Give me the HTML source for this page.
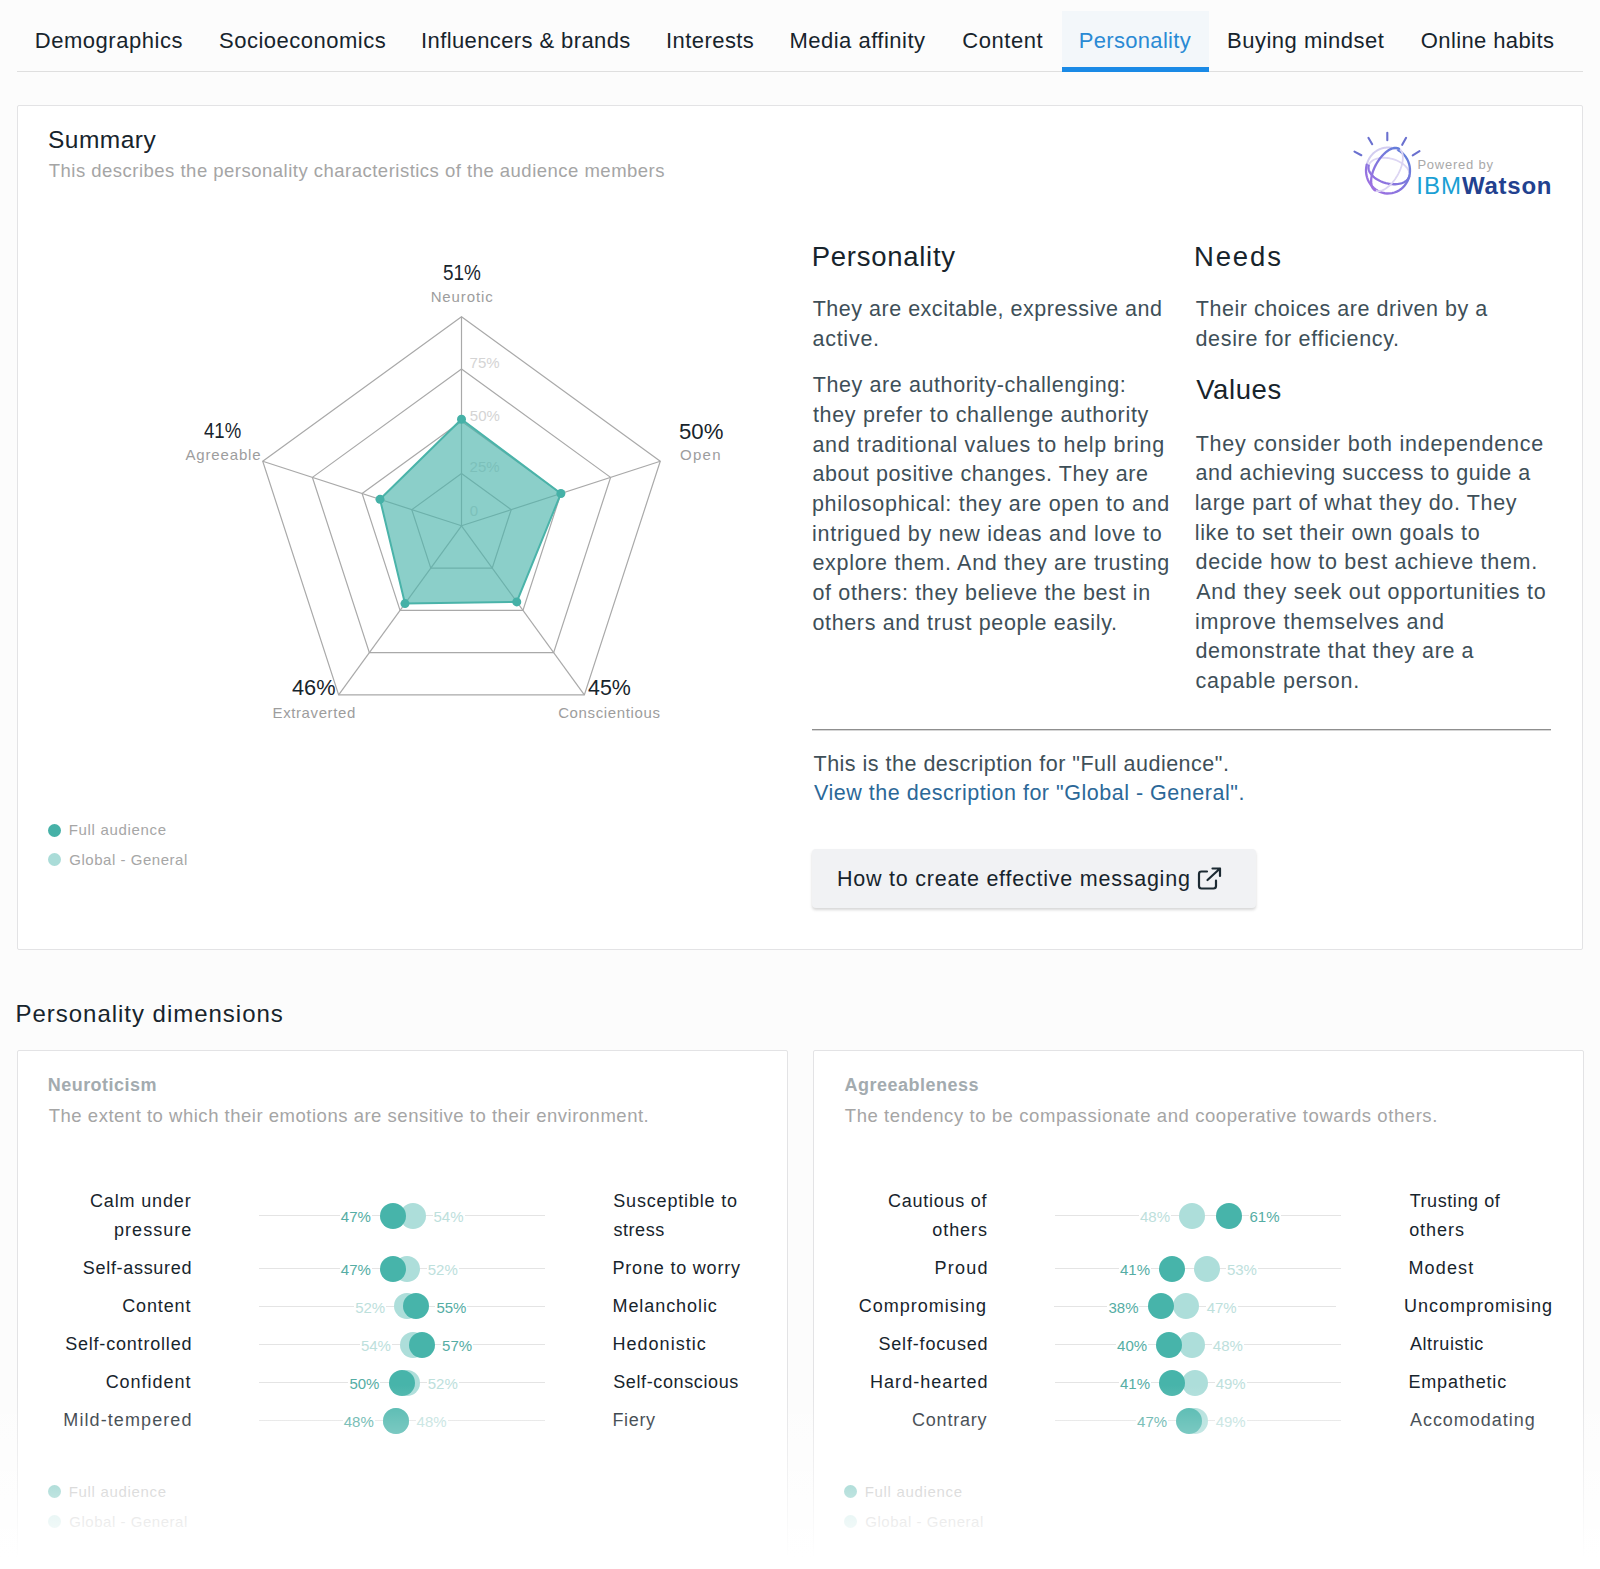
<!DOCTYPE html>
<html><head><meta charset="utf-8"><style>
html,body{margin:0;padding:0}
body{width:1600px;height:1569px;position:relative;overflow:hidden;background:#fcfcfc;font-family:'Liberation Sans', sans-serif}
.t{position:absolute;white-space:nowrap}
</style></head><body>
<div style="position:absolute;left:1062px;top:11px;width:147px;height:61px;background:#f3f7fa"></div>
<div style="position:absolute;left:17px;top:71px;width:1566px;height:1px;background:#dfdfdf"></div>
<div style="position:absolute;left:1062px;top:67px;width:147px;height:5px;background:#1a8ae6"></div>
<div class="t" style="left:34.75px;top:26px;font-size:22px;line-height:29px;color:#17242c;letter-spacing:0.532px;">Demographics</div>
<div class="t" style="left:219.00px;top:26px;font-size:22px;line-height:29px;color:#17242c;letter-spacing:0.500px;">Socioeconomics</div>
<div class="t" style="left:421.00px;top:26px;font-size:22px;line-height:29px;color:#17242c;letter-spacing:0.395px;">Influencers &amp; brands</div>
<div class="t" style="left:666.00px;top:26px;font-size:22px;line-height:29px;color:#17242c;letter-spacing:0.438px;">Interests</div>
<div class="t" style="left:789.50px;top:26px;font-size:22px;line-height:29px;color:#17242c;letter-spacing:0.481px;">Media affinity</div>
<div class="t" style="left:962.25px;top:26px;font-size:22px;line-height:29px;color:#17242c;letter-spacing:0.542px;">Content</div>
<div class="t" style="left:1078.85px;top:26px;font-size:22px;line-height:29px;color:#2a8ad4;letter-spacing:0.300px;">Personality</div>
<div class="t" style="left:1227.00px;top:26px;font-size:22px;line-height:29px;color:#17242c;letter-spacing:0.500px;">Buying mindset</div>
<div class="t" style="left:1420.75px;top:26px;font-size:22px;line-height:29px;color:#17242c;letter-spacing:0.396px;">Online habits</div>
<div style="position:absolute;left:17px;top:105px;width:1566px;height:845px;background:#fff;border:1px solid #e3e3e5;border-radius:2px;box-sizing:border-box"></div>
<div class="t" style="left:48.00px;top:124px;font-size:24.5px;line-height:32px;color:#17242c;letter-spacing:0.475px;">Summary</div>
<div class="t" style="left:48.75px;top:159px;font-size:18.5px;line-height:24px;color:#a5a5a5;letter-spacing:0.489px;">This describes the personality characteristics of the audience members</div>
<svg style="position:absolute;left:1345px;top:125px" width="80" height="75" viewBox="1345 125 80 75"><defs><linearGradient id="wg" gradientUnits="userSpaceOnUse" x1="1368" y1="192" x2="1410" y2="148"><stop offset="0" stop-color="#a46fe2"/><stop offset="1" stop-color="#5a80d8"/></linearGradient></defs><g stroke="#6a70cf" stroke-width="2.1" stroke-linecap="round"><line x1="1387.3" y1="132.8" x2="1387.3" y2="140.3"/><line x1="1368.4" y1="137.8" x2="1372.2" y2="144.2"/><line x1="1406.1" y1="137.8" x2="1402.2" y2="144.8"/><line x1="1354.5" y1="151.6" x2="1361.3" y2="155.2"/><line x1="1419.5" y1="151.2" x2="1412.7" y2="155.3"/></g><g fill="none" stroke-linecap="round"><polyline points="1366.75,164.55 1367.03,163.54 1367.36,162.54 1367.73,161.56 1368.14,160.60 1368.60,159.66 1369.09,158.74 1369.63,157.85 1370.20,156.98 1370.81,156.14 1371.46,155.34 1372.14,154.56 1372.86,153.82 1373.60,153.11 1374.38,152.44 1375.19,151.80 1376.02,151.21 1376.88,150.66 1377.76,150.15 1378.66,149.68 1379.58,149.25 1380.52,148.87 1381.48,148.53 1382.45,148.25 1383.43,148.00 1384.42,147.81 1385.41,147.66 1386.42,147.56 1387.42,147.51 1388.43,147.50 1389.44,147.55 1390.44,147.64 1391.44,147.78 1392.43,147.97 1393.42,148.21 1394.39,148.49 1395.34,148.82 1396.29,149.19 1397.21,149.61 1398.12,150.08 1399.00,150.58" stroke="#d3cdf0" stroke-width="2"/><polyline points="1368.72,165.56 1369.03,164.63 1369.47,163.74 1370.03,162.90 1370.71,162.10 1371.50,161.36 1372.40,160.68 1373.40,160.06 1374.49,159.51 1375.68,159.03 1376.94,158.62 1378.29,158.29 1379.69,158.04 1381.16,157.87 1382.67,157.77 1384.23,157.77 1385.81,157.84 1387.41,157.99 1389.02,158.22 1390.63,158.54 1392.24,158.93 1393.82,159.39 1395.37,159.92 1396.88,160.53 1398.35,161.20 1399.75,161.92 1401.09,162.71 1402.36,163.55 1403.54,164.43 1404.63,165.35 1405.63,166.31 1406.53,167.29 1407.31,168.30 1407.99,169.33 1408.54,170.36 1408.98,171.40 1409.29,172.44 1409.48,173.47 1409.54,174.48 1409.48,175.47 1409.28,176.44" stroke="#ddd6f3" stroke-width="1.8"/><polyline points="1398.33,150.19 1400.44,151.53 1402.39,153.10 1404.16,154.89 1405.73,156.88 1407.08,159.04 1408.18,161.35 1409.04,163.77 1409.62,166.27 1409.94,168.83 1409.98,171.40 1409.75,173.97 1409.24,176.49 1408.47,178.94 1407.43,181.28 1406.16,183.49 1404.65,185.53 1402.94,187.38 1401.04,189.02 1398.98,190.43 1396.77,191.59 1394.46,192.49 1392.07,193.10 1389.62,193.44 1387.16,193.48 1384.70,193.24 1382.29,192.71 1379.95,191.90 1377.71,190.83 1375.59,189.49 1373.64,187.92 1371.86,186.13 1370.29,184.15 1368.94,181.99 1367.83,179.69 1366.98,177.27 1366.38,174.77 1366.06,172.21 1366.02,169.64 1366.25,167.07 1366.75,164.55" stroke="url(#wg)" stroke-width="2.3"/><polyline points="1409.28,176.44 1408.97,177.37 1408.53,178.26 1407.97,179.10 1407.29,179.90 1406.50,180.64 1405.60,181.32 1404.60,181.94 1403.51,182.49 1402.32,182.97 1401.06,183.38 1399.71,183.71 1398.31,183.96 1396.84,184.13 1395.33,184.23 1393.77,184.23 1392.19,184.16 1390.59,184.01 1388.98,183.78 1387.37,183.46 1385.76,183.07 1384.18,182.61 1382.63,182.08 1381.12,181.47 1379.65,180.80 1378.25,180.08 1376.91,179.29 1375.64,178.45 1374.46,177.57 1373.37,176.65 1372.37,175.69 1371.47,174.71 1370.69,173.70 1370.01,172.67 1369.46,171.64 1369.02,170.60 1368.71,169.56 1368.52,168.53 1368.46,167.52 1368.52,166.53 1368.72,165.56" stroke="url(#wg)" stroke-width="2.3"/><polyline points="1399.00,148.72 1399.78,149.25 1400.48,149.91 1401.09,150.69 1401.62,151.59 1402.06,152.59 1402.41,153.70 1402.66,154.91 1402.82,156.21 1402.87,157.59 1402.83,159.05 1402.70,160.56 1402.46,162.14 1402.13,163.76 1401.71,165.41 1401.19,167.09 1400.59,168.78 1399.91,170.48 1399.14,172.17 1398.30,173.85 1397.39,175.50 1396.42,177.11 1395.39,178.68 1394.30,180.19 1393.18,181.63 1392.01,183.00 1390.81,184.28 1389.59,185.48 1388.35,186.57 1387.11,187.56 1385.86,188.44 1384.62,189.20 1383.40,189.84 1382.20,190.36 1381.03,190.74 1379.89,191.00 1378.80,191.12 1377.76,191.11 1376.77,190.97 1375.85,190.69 1375.00,190.28" stroke="#dcd5f2" stroke-width="1.8"/><polyline points="1375.00,190.28 1374.22,189.75 1373.52,189.09 1372.91,188.31 1372.38,187.41 1371.94,186.41 1371.59,185.30 1371.34,184.09 1371.18,182.79 1371.13,181.41 1371.17,179.95 1371.30,178.44 1371.54,176.86 1371.87,175.24 1372.29,173.59 1372.81,171.91 1373.41,170.22 1374.09,168.52 1374.86,166.83 1375.70,165.15 1376.61,163.50 1377.58,161.89 1378.61,160.32 1379.70,158.81 1380.82,157.37 1381.99,156.00 1383.19,154.72 1384.41,153.52 1385.65,152.43 1386.89,151.44 1388.14,150.56 1389.38,149.80 1390.60,149.16 1391.80,148.64 1392.97,148.26 1394.11,148.00 1395.20,147.88 1396.24,147.89 1397.23,148.03 1398.15,148.31 1399.00,148.72" stroke="url(#wg)" stroke-width="2.3"/></g></svg>
<div class="t" style="left:1417.40px;top:156px;font-size:13px;line-height:17px;color:#a9a9a9;letter-spacing:0.761px;">Powered by</div>
<div class="t" style="left:1416.15px;top:170px;font-size:24px;line-height:31px;color:#1a9fd4;letter-spacing:1.150px;">IBM</div>
<div class="t" style="left:1462.00px;top:170px;font-size:24px;line-height:31px;color:#22418f;letter-spacing:0.750px;font-weight:bold;">Watson</div>
<svg style="position:absolute;left:0;top:0" width="1600" height="1000" viewBox="0 0 1600 1000"><polygon points="461.50,473.55 511.19,509.65 492.21,568.07 430.79,568.07 411.81,509.65" fill="none" stroke="#a9a9a9" stroke-width="1.2"/><polygon points="461.50,421.30 560.89,493.51 522.92,610.34 400.08,610.34 362.11,493.51" fill="none" stroke="#a9a9a9" stroke-width="1.2"/><polygon points="461.50,369.05 610.58,477.36 553.64,652.61 369.36,652.61 312.42,477.36" fill="none" stroke="#a9a9a9" stroke-width="1.2"/><polygon points="461.50,316.80 660.27,461.22 584.35,694.88 338.65,694.88 262.73,461.22" fill="none" stroke="#a9a9a9" stroke-width="1.2"/><line x1="461.5" y1="525.8" x2="461.50" y2="316.80" stroke="#a9a9a9" stroke-width="1.2"/><line x1="461.5" y1="525.8" x2="660.27" y2="461.22" stroke="#a9a9a9" stroke-width="1.2"/><line x1="461.5" y1="525.8" x2="584.35" y2="694.88" stroke="#a9a9a9" stroke-width="1.2"/><line x1="461.5" y1="525.8" x2="338.65" y2="694.88" stroke="#a9a9a9" stroke-width="1.2"/><line x1="461.5" y1="525.8" x2="262.73" y2="461.22" stroke="#a9a9a9" stroke-width="1.2"/><text x="469.55" y="367.8" font-size="15" fill="#d4d4d4" font-family="Liberation Sans">75%</text><text x="469.80" y="420.5" font-size="15" fill="#d4d4d4" font-family="Liberation Sans">50%</text><text x="469.55" y="472" font-size="15" fill="#d4d4d4" font-family="Liberation Sans">25%</text><text x="469.80" y="515.5" font-size="15" fill="#d4d4d4" font-family="Liberation Sans">0</text><polygon points="461.50,419.21 560.89,493.51 516.78,601.89 404.99,603.58 380.00,499.32" fill="rgba(77,182,172,0.65)" stroke="#4ab3a9" stroke-width="2" stroke-linejoin="round"/><circle cx="461.50" cy="419.21" r="4.5" fill="#45b1a7"/><circle cx="560.89" cy="493.51" r="4.5" fill="#45b1a7"/><circle cx="516.78" cy="601.89" r="4.5" fill="#45b1a7"/><circle cx="404.99" cy="603.58" r="4.5" fill="#45b1a7"/><circle cx="380.00" cy="499.32" r="4.5" fill="#45b1a7"/></svg>
<div class="t" style="left:442.86px;top:258px;font-size:22.5px;line-height:29px;color:#17242c;letter-spacing:0.000px;transform:scaleX(0.8416);transform-origin:0 0;">51%</div>
<div class="t" style="left:430.65px;top:287px;font-size:15px;line-height:20px;color:#9d9d9d;letter-spacing:0.886px;">Neurotic</div>
<div class="t" style="left:204.29px;top:416px;font-size:22.5px;line-height:29px;color:#17242c;letter-spacing:0.000px;transform:scaleX(0.8251);transform-origin:0 0;">41%</div>
<div class="t" style="left:185.50px;top:445px;font-size:15px;line-height:20px;color:#9d9d9d;letter-spacing:0.844px;">Agreeable</div>
<div class="t" style="left:678.62px;top:417px;font-size:22.5px;line-height:29px;color:#17242c;letter-spacing:0.000px;transform:scaleX(0.9850);transform-origin:0 0;">50%</div>
<div class="t" style="left:680.05px;top:445px;font-size:15px;line-height:20px;color:#9d9d9d;letter-spacing:1.267px;">Open</div>
<div class="t" style="left:292.32px;top:673px;font-size:22.5px;line-height:29px;color:#17242c;letter-spacing:0.000px;transform:scaleX(0.9669);transform-origin:0 0;">46%</div>
<div class="t" style="left:272.55px;top:703px;font-size:15px;line-height:20px;color:#9d9d9d;letter-spacing:0.600px;">Extraverted</div>
<div class="t" style="left:587.82px;top:673px;font-size:22.5px;line-height:29px;color:#17242c;letter-spacing:0.000px;transform:scaleX(0.9509);transform-origin:0 0;">45%</div>
<div class="t" style="left:558.15px;top:703px;font-size:15px;line-height:20px;color:#9d9d9d;letter-spacing:0.633px;">Conscientious</div>
<div style="position:absolute;left:48px;top:823.5px;width:13px;height:13px;background:#46b1a7;border-radius:50%"></div>
<div class="t" style="left:68.75px;top:820px;font-size:15px;line-height:20px;color:#a6a6a6;letter-spacing:0.667px;">Full audience</div>
<div style="position:absolute;left:48px;top:853px;width:13px;height:13px;background:#aadcd8;border-radius:50%"></div>
<div class="t" style="left:69.25px;top:850px;font-size:15px;line-height:20px;color:#a6a6a6;letter-spacing:0.533px;">Global - General</div>
<div class="t" style="left:811.75px;top:239px;font-size:27.5px;line-height:36px;color:#17242c;letter-spacing:0.725px;">Personality</div>
<div class="t" style="left:1193.95px;top:239px;font-size:27.5px;line-height:36px;color:#17242c;letter-spacing:1.863px;">Needs</div>
<div class="t" style="left:812.70px;top:295px;font-size:21.5px;line-height:28px;color:#3e4f58;letter-spacing:0.514px;">They are excitable, expressive and</div>
<div class="t" style="left:812.45px;top:325px;font-size:21.5px;line-height:28px;color:#3e4f58;letter-spacing:0.750px;">active.</div>
<div class="t" style="left:812.70px;top:371px;font-size:21.5px;line-height:28px;color:#3e4f58;letter-spacing:0.598px;">They are authority-challenging:</div>
<div class="t" style="left:812.95px;top:401px;font-size:21.5px;line-height:28px;color:#3e4f58;letter-spacing:0.673px;">they prefer to challenge authority</div>
<div class="t" style="left:812.45px;top:431px;font-size:21.5px;line-height:28px;color:#3e4f58;letter-spacing:0.693px;">and traditional values to help bring</div>
<div class="t" style="left:812.45px;top:460px;font-size:21.5px;line-height:28px;color:#3e4f58;letter-spacing:0.621px;">about positive changes. They are</div>
<div class="t" style="left:811.95px;top:490px;font-size:21.5px;line-height:28px;color:#3e4f58;letter-spacing:0.701px;">philosophical: they are open to and</div>
<div class="t" style="left:811.95px;top:520px;font-size:21.5px;line-height:28px;color:#3e4f58;letter-spacing:0.748px;">intrigued by new ideas and love to</div>
<div class="t" style="left:812.45px;top:549px;font-size:21.5px;line-height:28px;color:#3e4f58;letter-spacing:0.687px;">explore them. And they are trusting</div>
<div class="t" style="left:812.45px;top:579px;font-size:21.5px;line-height:28px;color:#3e4f58;letter-spacing:0.653px;">of others: they believe the best in</div>
<div class="t" style="left:812.45px;top:609px;font-size:21.5px;line-height:28px;color:#3e4f58;letter-spacing:0.643px;">others and trust people easily.</div>
<div class="t" style="left:1195.70px;top:295px;font-size:21.5px;line-height:28px;color:#3e4f58;letter-spacing:0.557px;">Their choices are driven by a</div>
<div class="t" style="left:1195.45px;top:325px;font-size:21.5px;line-height:28px;color:#3e4f58;letter-spacing:0.686px;">desire for efficiency.</div>
<div class="t" style="left:1196.20px;top:372px;font-size:27.5px;line-height:36px;color:#17242c;letter-spacing:0.600px;">Values</div>
<div class="t" style="left:1195.70px;top:430px;font-size:21.5px;line-height:28px;color:#3e4f58;letter-spacing:0.787px;">They consider both independence</div>
<div class="t" style="left:1195.45px;top:459px;font-size:21.5px;line-height:28px;color:#3e4f58;letter-spacing:0.584px;">and achieving success to guide a</div>
<div class="t" style="left:1194.70px;top:489px;font-size:21.5px;line-height:28px;color:#3e4f58;letter-spacing:0.639px;">large part of what they do. They</div>
<div class="t" style="left:1194.70px;top:519px;font-size:21.5px;line-height:28px;color:#3e4f58;letter-spacing:0.678px;">like to set their own goals to</div>
<div class="t" style="left:1195.45px;top:548px;font-size:21.5px;line-height:28px;color:#3e4f58;letter-spacing:0.732px;">decide how to best achieve them.</div>
<div class="t" style="left:1196.20px;top:578px;font-size:21.5px;line-height:28px;color:#3e4f58;letter-spacing:0.741px;">And they seek out opportunities to</div>
<div class="t" style="left:1194.95px;top:608px;font-size:21.5px;line-height:28px;color:#3e4f58;letter-spacing:0.764px;">improve themselves and</div>
<div class="t" style="left:1195.45px;top:637px;font-size:21.5px;line-height:28px;color:#3e4f58;letter-spacing:0.579px;">demonstrate that they are a</div>
<div class="t" style="left:1195.45px;top:667px;font-size:21.5px;line-height:28px;color:#3e4f58;letter-spacing:0.775px;">capable person.</div>
<div style="position:absolute;left:812px;top:729px;width:739px;height:1px;background:#8f8f8f"></div>
<div style="position:absolute;left:812px;top:730px;width:739px;height:1px;background:#d6d6d6"></div>
<div class="t" style="left:813.50px;top:750px;font-size:21.5px;line-height:28px;color:#3e4f58;letter-spacing:0.495px;">This is the description for "Full audience".</div>
<div class="t" style="left:814.00px;top:779px;font-size:21.5px;line-height:28px;color:#2b6898;letter-spacing:0.519px;">View the description for "Global - General".</div>
<div style="position:absolute;left:812px;top:849px;width:444px;height:59px;background:#f1f2f4;border-radius:4px;box-shadow:0 2px 3px rgba(0,0,0,0.16)"></div>
<div class="t" style="left:837.00px;top:865px;font-size:21.5px;line-height:28px;color:#17242c;letter-spacing:0.769px;">How to create effective messaging</div>
<svg style="position:absolute;left:1196px;top:866px" width="28" height="26" viewBox="0 0 28 26"><path d="M11 5.5 H5.5 Q3 5.5 3 8 V20 Q3 22.5 5.5 22.5 H17.5 Q20 22.5 20 20 V14.5" fill="none" stroke="#1d2b33" stroke-width="2.2" stroke-linecap="round"/><path d="M11.5 14 L24 2.5 M16.5 2.5 H24 V10" fill="none" stroke="#1d2b33" stroke-width="2.2" stroke-linecap="round" stroke-linejoin="round"/></svg>
<div class="t" style="left:15.50px;top:998px;font-size:24px;line-height:31px;color:#17242c;letter-spacing:0.976px;">Personality dimensions</div>
<div style="position:absolute;left:17px;top:1050px;width:771px;height:560px;background:#fff;border:1px solid #e3e3e5;border-radius:2px;box-sizing:border-box"></div>
<div class="t" style="left:47.75px;top:1074px;font-size:18px;line-height:23px;color:#a3abaf;letter-spacing:0.465px;font-weight:bold;">Neuroticism</div>
<div class="t" style="left:48.75px;top:1104px;font-size:18.5px;line-height:24px;color:#a5a5a5;letter-spacing:0.514px;">The extent to which their emotions are sensitive to their environment.</div>
<div class="t" style="left:89.95px;top:1190px;font-size:18px;line-height:23px;color:#17242c;letter-spacing:0.856px;">Calm under</div>
<div class="t" style="left:114.10px;top:1219px;font-size:18px;line-height:23px;color:#17242c;letter-spacing:1.007px;">pressure</div>
<div class="t" style="left:613.25px;top:1190px;font-size:18px;line-height:23px;color:#17242c;letter-spacing:0.831px;">Susceptible to</div>
<div class="t" style="left:613.50px;top:1219px;font-size:18px;line-height:23px;color:#17242c;letter-spacing:0.540px;">stress</div>
<div style="position:absolute;left:258.5px;top:1215px;width:286.5px;height:1px;background:#e4e4e4"></div>
<div style="position:absolute;left:400.21px;top:1202.50px;width:26px;height:26px;border-radius:50%;background:#addeda"></div>
<div style="position:absolute;left:380.15px;top:1202.50px;width:26px;height:26px;border-radius:50%;background:#47b4aa"></div>
<div class="t" style="left:340.85px;top:1207px;font-size:15px;line-height:20px;color:#55ada4;letter-spacing:0.000px;background:#fff;padding:0 1px;margin-left:-1px;">47%</div>
<div class="t" style="left:433.51px;top:1207px;font-size:15px;line-height:20px;color:#bde0dc;letter-spacing:0.000px;background:#fff;padding:0 1px;margin-left:-1px;">54%</div>
<div class="t" style="left:82.85px;top:1257px;font-size:18px;line-height:23px;color:#17242c;letter-spacing:0.686px;">Self-assured</div>
<div class="t" style="left:612.50px;top:1257px;font-size:18px;line-height:23px;color:#17242c;letter-spacing:0.808px;">Prone to worry</div>
<div style="position:absolute;left:258.5px;top:1268px;width:286.5px;height:1px;background:#e4e4e4"></div>
<div style="position:absolute;left:394.48px;top:1255.60px;width:26px;height:26px;border-radius:50%;background:#addeda"></div>
<div style="position:absolute;left:380.15px;top:1255.60px;width:26px;height:26px;border-radius:50%;background:#47b4aa"></div>
<div class="t" style="left:340.85px;top:1260px;font-size:15px;line-height:20px;color:#55ada4;letter-spacing:0.000px;background:#fff;padding:0 1px;margin-left:-1px;">47%</div>
<div class="t" style="left:427.78px;top:1260px;font-size:15px;line-height:20px;color:#bde0dc;letter-spacing:0.000px;background:#fff;padding:0 1px;margin-left:-1px;">52%</div>
<div class="t" style="left:122.15px;top:1295px;font-size:18px;line-height:23px;color:#17242c;letter-spacing:0.875px;">Content</div>
<div class="t" style="left:612.50px;top:1295px;font-size:18px;line-height:23px;color:#17242c;letter-spacing:0.930px;">Melancholic</div>
<div style="position:absolute;left:258.5px;top:1306px;width:286.5px;height:1px;background:#e4e4e4"></div>
<div style="position:absolute;left:394.48px;top:1293.40px;width:26px;height:26px;border-radius:50%;background:#addeda"></div>
<div style="position:absolute;left:403.07px;top:1293.40px;width:26px;height:26px;border-radius:50%;background:#47b4aa"></div>
<div class="t" style="left:355.18px;top:1298px;font-size:15px;line-height:20px;color:#bde0dc;letter-spacing:0.000px;background:#fff;padding:0 1px;margin-left:-1px;">52%</div>
<div class="t" style="left:436.38px;top:1298px;font-size:15px;line-height:20px;color:#55ada4;letter-spacing:0.000px;background:#fff;padding:0 1px;margin-left:-1px;">55%</div>
<div class="t" style="left:65.15px;top:1333px;font-size:18px;line-height:23px;color:#17242c;letter-spacing:0.804px;">Self-controlled</div>
<div class="t" style="left:612.50px;top:1333px;font-size:18px;line-height:23px;color:#17242c;letter-spacing:1.022px;">Hedonistic</div>
<div style="position:absolute;left:258.5px;top:1344px;width:286.5px;height:1px;background:#e4e4e4"></div>
<div style="position:absolute;left:400.21px;top:1331.60px;width:26px;height:26px;border-radius:50%;background:#addeda"></div>
<div style="position:absolute;left:408.81px;top:1331.60px;width:26px;height:26px;border-radius:50%;background:#47b4aa"></div>
<div class="t" style="left:360.91px;top:1336px;font-size:15px;line-height:20px;color:#bde0dc;letter-spacing:0.000px;background:#fff;padding:0 1px;margin-left:-1px;">54%</div>
<div class="t" style="left:442.11px;top:1336px;font-size:15px;line-height:20px;color:#55ada4;letter-spacing:0.000px;background:#fff;padding:0 1px;margin-left:-1px;">57%</div>
<div class="t" style="left:105.65px;top:1371px;font-size:18px;line-height:23px;color:#17242c;letter-spacing:0.969px;">Confident</div>
<div class="t" style="left:613.25px;top:1371px;font-size:18px;line-height:23px;color:#17242c;letter-spacing:0.619px;">Self-conscious</div>
<div style="position:absolute;left:258.5px;top:1382px;width:286.5px;height:1px;background:#e4e4e4"></div>
<div style="position:absolute;left:394.48px;top:1369.60px;width:26px;height:26px;border-radius:50%;background:#addeda"></div>
<div style="position:absolute;left:388.75px;top:1369.60px;width:26px;height:26px;border-radius:50%;background:#47b4aa"></div>
<div class="t" style="left:349.45px;top:1374px;font-size:15px;line-height:20px;color:#55ada4;letter-spacing:0.000px;background:#fff;padding:0 1px;margin-left:-1px;">50%</div>
<div class="t" style="left:427.78px;top:1374px;font-size:15px;line-height:20px;color:#bde0dc;letter-spacing:0.000px;background:#fff;padding:0 1px;margin-left:-1px;">52%</div>
<div class="t" style="left:63.30px;top:1409px;font-size:18px;line-height:23px;color:#17242c;letter-spacing:1.092px;">Mild-tempered</div>
<div class="t" style="left:612.50px;top:1409px;font-size:18px;line-height:23px;color:#17242c;letter-spacing:0.625px;">Fiery</div>
<div style="position:absolute;left:258.5px;top:1420px;width:286.5px;height:1px;background:#e4e4e4"></div>
<div style="position:absolute;left:383.02px;top:1407.60px;width:26px;height:26px;border-radius:50%;background:#addeda"></div>
<div style="position:absolute;left:383.02px;top:1407.60px;width:26px;height:26px;border-radius:50%;background:#47b4aa"></div>
<div class="t" style="left:343.72px;top:1412px;font-size:15px;line-height:20px;color:#55ada4;letter-spacing:0.000px;background:#fff;padding:0 1px;margin-left:-1px;">48%</div>
<div class="t" style="left:416.57px;top:1412px;font-size:15px;line-height:20px;color:#bde0dc;letter-spacing:0.000px;background:#fff;padding:0 1px;margin-left:-1px;">48%</div>
<div style="position:absolute;left:48px;top:1484.5px;width:13px;height:13px;background:#46b1a7;border-radius:50%"></div>
<div class="t" style="left:68.75px;top:1482px;font-size:15px;line-height:20px;color:#a6a6a6;letter-spacing:0.667px;">Full audience</div>
<div style="position:absolute;left:48px;top:1514.5px;width:13px;height:13px;background:#aadcd8;border-radius:50%"></div>
<div class="t" style="left:69.25px;top:1512px;font-size:15px;line-height:20px;color:#a6a6a6;letter-spacing:0.533px;">Global - General</div>
<div style="position:absolute;left:813px;top:1050px;width:771px;height:560px;background:#fff;border:1px solid #e3e3e5;border-radius:2px;box-sizing:border-box"></div>
<div class="t" style="left:844.50px;top:1074px;font-size:18px;line-height:23px;color:#a3abaf;letter-spacing:0.487px;font-weight:bold;">Agreeableness</div>
<div class="t" style="left:844.75px;top:1104px;font-size:18.5px;line-height:24px;color:#a5a5a5;letter-spacing:0.575px;">The tendency to be compassionate and cooperative towards others.</div>
<div class="t" style="left:888.05px;top:1190px;font-size:18px;line-height:23px;color:#17242c;letter-spacing:0.745px;">Cautious of</div>
<div class="t" style="left:932.25px;top:1219px;font-size:18px;line-height:23px;color:#17242c;letter-spacing:0.950px;">others</div>
<div class="t" style="left:1409.65px;top:1190px;font-size:18px;line-height:23px;color:#17242c;letter-spacing:0.580px;">Trusting of</div>
<div class="t" style="left:1409.15px;top:1219px;font-size:18px;line-height:23px;color:#17242c;letter-spacing:0.950px;">others</div>
<div style="position:absolute;left:1055px;top:1215px;width:286px;height:1px;background:#e4e4e4"></div>
<div style="position:absolute;left:1179.28px;top:1202.50px;width:26px;height:26px;border-radius:50%;background:#addeda"></div>
<div style="position:absolute;left:1216.46px;top:1202.50px;width:26px;height:26px;border-radius:50%;background:#47b4aa"></div>
<div class="t" style="left:1139.98px;top:1207px;font-size:15px;line-height:20px;color:#bde0dc;letter-spacing:0.000px;background:#fff;padding:0 1px;margin-left:-1px;">48%</div>
<div class="t" style="left:1249.51px;top:1207px;font-size:15px;line-height:20px;color:#55ada4;letter-spacing:0.000px;background:#fff;padding:0 1px;margin-left:-1px;">61%</div>
<div class="t" style="left:934.50px;top:1257px;font-size:18px;line-height:23px;color:#17242c;letter-spacing:1.250px;">Proud</div>
<div class="t" style="left:1408.40px;top:1257px;font-size:18px;line-height:23px;color:#17242c;letter-spacing:1.160px;">Modest</div>
<div style="position:absolute;left:1055px;top:1268px;width:286px;height:1px;background:#e4e4e4"></div>
<div style="position:absolute;left:1193.58px;top:1255.60px;width:26px;height:26px;border-radius:50%;background:#addeda"></div>
<div style="position:absolute;left:1159.26px;top:1255.60px;width:26px;height:26px;border-radius:50%;background:#47b4aa"></div>
<div class="t" style="left:1119.96px;top:1260px;font-size:15px;line-height:20px;color:#55ada4;letter-spacing:0.000px;background:#fff;padding:0 1px;margin-left:-1px;">41%</div>
<div class="t" style="left:1226.88px;top:1260px;font-size:15px;line-height:20px;color:#bde0dc;letter-spacing:0.000px;background:#fff;padding:0 1px;margin-left:-1px;">53%</div>
<div class="t" style="left:858.75px;top:1295px;font-size:18px;line-height:23px;color:#17242c;letter-spacing:1.014px;">Compromising</div>
<div class="t" style="left:1404.05px;top:1295px;font-size:18px;line-height:23px;color:#17242c;letter-spacing:0.996px;">Uncompromising</div>
<div style="position:absolute;left:1053.6px;top:1306px;width:282.0px;height:1px;background:#e4e4e4"></div>
<div style="position:absolute;left:1173.14px;top:1293.40px;width:26px;height:26px;border-radius:50%;background:#addeda"></div>
<div style="position:absolute;left:1147.76px;top:1293.40px;width:26px;height:26px;border-radius:50%;background:#47b4aa"></div>
<div class="t" style="left:1108.46px;top:1298px;font-size:15px;line-height:20px;color:#55ada4;letter-spacing:0.000px;background:#fff;padding:0 1px;margin-left:-1px;">38%</div>
<div class="t" style="left:1206.69px;top:1298px;font-size:15px;line-height:20px;color:#bde0dc;letter-spacing:0.000px;background:#fff;padding:0 1px;margin-left:-1px;">47%</div>
<div class="t" style="left:878.45px;top:1333px;font-size:18px;line-height:23px;color:#17242c;letter-spacing:0.823px;">Self-focused</div>
<div class="t" style="left:1409.90px;top:1333px;font-size:18px;line-height:23px;color:#17242c;letter-spacing:0.600px;">Altruistic</div>
<div style="position:absolute;left:1055px;top:1344px;width:286px;height:1px;background:#e4e4e4"></div>
<div style="position:absolute;left:1179.28px;top:1331.60px;width:26px;height:26px;border-radius:50%;background:#addeda"></div>
<div style="position:absolute;left:1156.40px;top:1331.60px;width:26px;height:26px;border-radius:50%;background:#47b4aa"></div>
<div class="t" style="left:1117.10px;top:1336px;font-size:15px;line-height:20px;color:#55ada4;letter-spacing:0.000px;background:#fff;padding:0 1px;margin-left:-1px;">40%</div>
<div class="t" style="left:1212.83px;top:1336px;font-size:15px;line-height:20px;color:#bde0dc;letter-spacing:0.000px;background:#fff;padding:0 1px;margin-left:-1px;">48%</div>
<div class="t" style="left:870.00px;top:1371px;font-size:18px;line-height:23px;color:#17242c;letter-spacing:1.045px;">Hard-hearted</div>
<div class="t" style="left:1408.40px;top:1371px;font-size:18px;line-height:23px;color:#17242c;letter-spacing:0.867px;">Empathetic</div>
<div style="position:absolute;left:1055px;top:1382px;width:286px;height:1px;background:#e4e4e4"></div>
<div style="position:absolute;left:1182.14px;top:1369.60px;width:26px;height:26px;border-radius:50%;background:#addeda"></div>
<div style="position:absolute;left:1159.26px;top:1369.60px;width:26px;height:26px;border-radius:50%;background:#47b4aa"></div>
<div class="t" style="left:1119.96px;top:1374px;font-size:15px;line-height:20px;color:#55ada4;letter-spacing:0.000px;background:#fff;padding:0 1px;margin-left:-1px;">41%</div>
<div class="t" style="left:1215.69px;top:1374px;font-size:15px;line-height:20px;color:#bde0dc;letter-spacing:0.000px;background:#fff;padding:0 1px;margin-left:-1px;">49%</div>
<div class="t" style="left:912.05px;top:1409px;font-size:18px;line-height:23px;color:#17242c;letter-spacing:0.779px;">Contrary</div>
<div class="t" style="left:1409.90px;top:1409px;font-size:18px;line-height:23px;color:#17242c;letter-spacing:0.991px;">Accomodating</div>
<div style="position:absolute;left:1055px;top:1420px;width:286px;height:1px;background:#e4e4e4"></div>
<div style="position:absolute;left:1182.14px;top:1407.60px;width:26px;height:26px;border-radius:50%;background:#addeda"></div>
<div style="position:absolute;left:1176.42px;top:1407.60px;width:26px;height:26px;border-radius:50%;background:#47b4aa"></div>
<div class="t" style="left:1137.12px;top:1412px;font-size:15px;line-height:20px;color:#55ada4;letter-spacing:0.000px;background:#fff;padding:0 1px;margin-left:-1px;">47%</div>
<div class="t" style="left:1215.69px;top:1412px;font-size:15px;line-height:20px;color:#bde0dc;letter-spacing:0.000px;background:#fff;padding:0 1px;margin-left:-1px;">49%</div>
<div style="position:absolute;left:844px;top:1484.5px;width:13px;height:13px;background:#46b1a7;border-radius:50%"></div>
<div class="t" style="left:864.75px;top:1482px;font-size:15px;line-height:20px;color:#a6a6a6;letter-spacing:0.667px;">Full audience</div>
<div style="position:absolute;left:844px;top:1514.5px;width:13px;height:13px;background:#aadcd8;border-radius:50%"></div>
<div class="t" style="left:865.25px;top:1512px;font-size:15px;line-height:20px;color:#a6a6a6;letter-spacing:0.533px;">Global - General</div>
<div style="position:absolute;left:0px;top:1385px;width:1600px;height:184px;background:linear-gradient(to bottom, rgba(255,255,255,0) 0px, rgba(255,255,255,1) 173px)"></div>
</body></html>
